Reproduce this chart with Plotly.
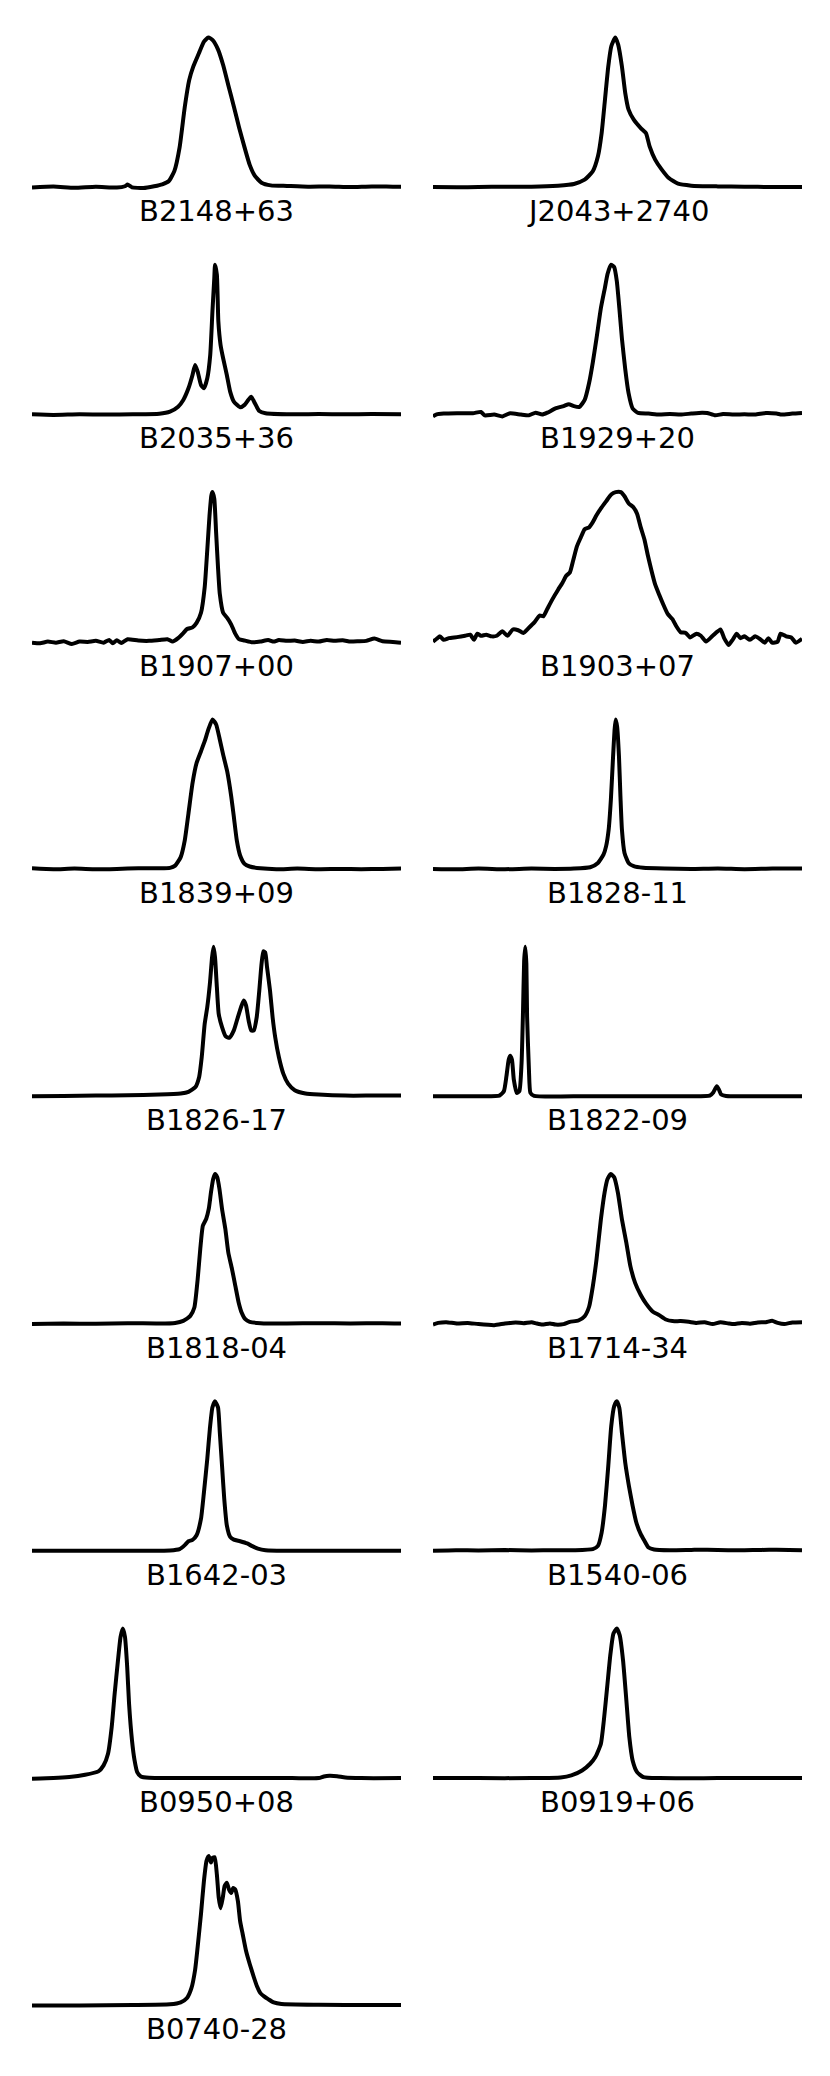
import plotly.graph_objects as go

# ---------------- data: normalised pulse profiles (phase 0..1, intensity peak = 1) ----------------
names = ["B2148+63", "J2043+2740", "B2035+36", "B1929+20", "B1907+00", "B1903+07",
         "B1839+09", "B1828-11", "B1826-17", "B1822-09", "B1818-04", "B1714-34",
         "B1642-03", "B1540-06", "B0950+08", "B0919+06", "B0740-28"]

phase_B2148 = [0.000, 0.058, 0.115, 0.173, 0.230, 0.252, 0.259, 0.271, 0.302, 0.331, 0.353, 0.371, 0.386,
               0.400, 0.414, 0.426, 0.437, 0.452, 0.466, 0.478, 0.489, 0.504, 0.518, 0.532, 0.547, 0.561,
               0.576, 0.590, 0.604, 0.622, 0.647, 0.691, 0.748, 0.806, 0.863, 0.921, 0.978, 1.000]
flux_B2148 = [-0.004, 0.003, -0.005, 0.002, -0.004, 0.005, 0.016, -0.002, -0.007, 0.005, 0.018, 0.040, 0.108,
              0.265, 0.535, 0.715, 0.805, 0.893, 0.973, 1.000, 0.984, 0.921, 0.816, 0.681, 0.539, 0.400,
              0.265, 0.148, 0.074, 0.029, 0.011, 0.007, 0.002, 0.004, 0.000, 0.004, 0.002, 0.002]

phase_J2043 = [0.000, 0.065, 0.123, 0.195, 0.267, 0.339, 0.382, 0.411, 0.433, 0.447, 0.457, 0.466, 0.475,
               0.483, 0.494, 0.502, 0.512, 0.521, 0.530, 0.544, 0.563, 0.577, 0.587, 0.602, 0.620, 0.639,
               0.664, 0.700, 0.772, 0.844, 0.916, 1.000]
flux_J2043 = [0.000, -0.002, 0.000, 0.002, 0.002, 0.009, 0.020, 0.049, 0.105, 0.205, 0.360, 0.583, 0.806,
              0.940, 1.000, 0.951, 0.806, 0.628, 0.517, 0.450, 0.394, 0.361, 0.272, 0.183, 0.116, 0.060,
              0.022, 0.009, 0.004, 0.002, 0.000, 0.000]

phase_B2035 = [0.000, 0.058, 0.129, 0.201, 0.273, 0.345, 0.374, 0.396, 0.410, 0.424, 0.435, 0.442, 0.449,
               0.458, 0.466, 0.475, 0.483, 0.489, 0.494, 0.496, 0.501, 0.505, 0.511, 0.518, 0.528, 0.537,
               0.547, 0.564, 0.576, 0.586, 0.594, 0.604, 0.616, 0.633, 0.705, 0.777, 0.849, 0.921, 1.000]
flux_B2035 = [0.000, -0.004, 0.000, -0.002, 0.000, 0.004, 0.018, 0.051, 0.096, 0.174, 0.263, 0.330, 0.286,
              0.196, 0.174, 0.241, 0.397, 0.688, 0.911, 1.000, 0.933, 0.621, 0.464, 0.375, 0.263, 0.152,
              0.085, 0.047, 0.063, 0.096, 0.118, 0.074, 0.022, 0.007, 0.000, 0.002, 0.000, 0.002, 0.000]

phase_B1929 = [0.000, 0.010, 0.029, 0.065, 0.108, 0.130, 0.140, 0.166, 0.188, 0.209, 0.238, 0.260, 0.278,
               0.296, 0.310, 0.332, 0.354, 0.368, 0.382, 0.397, 0.411, 0.423, 0.433, 0.443, 0.455, 0.466,
               0.473, 0.482, 0.491, 0.498, 0.505, 0.512, 0.521, 0.530, 0.541, 0.556, 0.584, 0.613, 0.642,
               0.671, 0.700, 0.729, 0.743, 0.765, 0.786, 0.815, 0.844, 0.873, 0.902, 0.931, 0.945, 0.974, 1.000]
flux_B1929 = [-0.014, 0.000, 0.005, 0.007, 0.007, 0.016, -0.007, -0.002, -0.014, 0.007, -0.002, -0.007, 0.011,
              -0.002, 0.011, 0.039, 0.055, 0.068, 0.055, 0.050, 0.096, 0.209, 0.346, 0.506, 0.711, 0.848,
              0.939, 1.000, 0.984, 0.893, 0.711, 0.506, 0.301, 0.141, 0.039, 0.009, 0.005, -0.002, 0.002,
              -0.002, 0.005, 0.011, 0.009, -0.007, 0.002, -0.002, 0.000, -0.002, 0.009, 0.005, -0.002, 0.005, 0.009]

phase_B1907 = [0.000, 0.022, 0.043, 0.065, 0.086, 0.108, 0.129, 0.151, 0.173, 0.194, 0.209, 0.219, 0.230,
               0.242, 0.259, 0.288, 0.317, 0.345, 0.367, 0.381, 0.396, 0.410, 0.420, 0.435, 0.446, 0.458,
               0.468, 0.475, 0.481, 0.486, 0.489, 0.494, 0.499, 0.504, 0.509, 0.518, 0.529, 0.540, 0.550,
               0.561, 0.576, 0.597, 0.619, 0.640, 0.655, 0.669, 0.691, 0.712, 0.734, 0.755, 0.777, 0.799,
               0.820, 0.842, 0.863, 0.885, 0.906, 0.928, 0.950, 0.978, 1.000]
flux_B1907 = [-0.007, -0.011, 0.000, -0.007, 0.002, -0.016, 0.000, -0.002, 0.005, -0.007, 0.011, -0.011, 0.009,
              -0.009, 0.016, 0.007, 0.005, 0.011, 0.016, 0.000, 0.023, 0.057, 0.084, 0.095, 0.125, 0.193,
              0.364, 0.614, 0.841, 0.977, 1.000, 0.955, 0.727, 0.500, 0.318, 0.193, 0.159, 0.114, 0.057,
              0.016, 0.007, -0.005, 0.000, 0.011, 0.000, 0.011, 0.005, 0.007, -0.002, 0.005, 0.000, 0.011,
              0.005, 0.009, 0.000, 0.002, 0.005, 0.020, 0.002, -0.002, -0.007]

phase_B1903 = [0.000, 0.010, 0.019, 0.029, 0.043, 0.065, 0.087, 0.101, 0.111, 0.120, 0.130, 0.144, 0.159,
               0.173, 0.188, 0.202, 0.216, 0.231, 0.245, 0.260, 0.274, 0.289, 0.299, 0.310, 0.325, 0.339,
               0.351, 0.361, 0.371, 0.380, 0.390, 0.400, 0.411, 0.423, 0.433, 0.443, 0.455, 0.469, 0.483,
               0.495, 0.509, 0.519, 0.530, 0.544, 0.553, 0.563, 0.573, 0.582, 0.592, 0.602, 0.613, 0.625,
               0.636, 0.649, 0.659, 0.671, 0.685, 0.697, 0.714, 0.726, 0.740, 0.758, 0.779, 0.789, 0.801,
               0.812, 0.823, 0.833, 0.844, 0.859, 0.873, 0.885, 0.899, 0.909, 0.919, 0.934, 0.942, 0.957,
               0.971, 0.983, 1.000]
flux_B1903 = [0.000, 0.019, 0.035, 0.012, 0.023, 0.030, 0.039, 0.046, 0.012, 0.053, 0.039, 0.046, 0.035,
              0.039, 0.069, 0.039, 0.081, 0.076, 0.058, 0.093, 0.127, 0.174, 0.169, 0.220, 0.289, 0.347,
              0.394, 0.440, 0.463, 0.544, 0.637, 0.694, 0.752, 0.764, 0.799, 0.845, 0.891, 0.938, 0.984,
              1.000, 1.000, 0.972, 0.926, 0.896, 0.856, 0.764, 0.683, 0.579, 0.475, 0.382, 0.313, 0.243,
              0.185, 0.150, 0.104, 0.063, 0.058, 0.028, 0.053, 0.039, 0.000, 0.039, 0.081, 0.023, -0.023,
              0.012, 0.053, 0.023, 0.035, 0.012, 0.035, 0.019, -0.007, 0.023, -0.007, 0.000, 0.053, 0.035,
              0.028, -0.007, 0.019]

phase_B1839 = [0.000, 0.058, 0.115, 0.173, 0.230, 0.288, 0.345, 0.374, 0.388, 0.403, 0.414, 0.424, 0.435,
               0.446, 0.458, 0.468, 0.478, 0.489, 0.499, 0.508, 0.518, 0.529, 0.540, 0.547, 0.555, 0.564,
               0.576, 0.590, 0.619, 0.662, 0.719, 0.777, 0.835, 0.892, 0.950, 1.000]
flux_B1839 = [0.004, -0.002, 0.002, -0.002, 0.000, 0.004, 0.004, 0.007, 0.022, 0.079, 0.191, 0.371, 0.573,
              0.708, 0.787, 0.854, 0.933, 1.000, 0.966, 0.876, 0.764, 0.652, 0.483, 0.348, 0.191, 0.090,
              0.034, 0.016, 0.004, -0.002, 0.002, -0.002, 0.000, -0.002, 0.000, 0.002]

phase_B1828 = [0.000, 0.062, 0.123, 0.195, 0.267, 0.330, 0.382, 0.426, 0.447, 0.462, 0.469, 0.476, 0.482,
               0.488, 0.492, 0.495, 0.499, 0.504, 0.508, 0.512, 0.519, 0.530, 0.544, 0.570, 0.628, 0.700,
               0.772, 0.844, 0.920, 1.000]
flux_B1828 = [0.000, -0.003, 0.002, -0.002, 0.002, 0.000, 0.002, 0.011, 0.040, 0.096, 0.151, 0.262, 0.462,
              0.751, 0.929, 1.000, 0.951, 0.751, 0.484, 0.262, 0.107, 0.040, 0.018, 0.007, 0.002, 0.000,
              0.003, -0.002, 0.002, 0.002]

phase_B1826 = [0.000, 0.086, 0.173, 0.259, 0.345, 0.403, 0.424, 0.443, 0.453, 0.460, 0.468, 0.475, 0.482,
               0.488, 0.492, 0.496, 0.501, 0.506, 0.515, 0.525, 0.535, 0.547, 0.558, 0.568, 0.574, 0.580,
               0.587, 0.594, 0.601, 0.609, 0.616, 0.622, 0.627, 0.632, 0.637, 0.645, 0.652, 0.659, 0.669,
               0.681, 0.694, 0.712, 0.741, 0.777, 0.849, 0.921, 1.000]
flux_B1826 = [0.000, 0.002, 0.004, 0.007, 0.011, 0.018, 0.029, 0.062, 0.129, 0.262, 0.484, 0.596, 0.751,
              0.929, 1.000, 0.929, 0.729, 0.551, 0.462, 0.400, 0.391, 0.440, 0.529, 0.607, 0.640, 0.607,
              0.507, 0.440, 0.440, 0.529, 0.707, 0.884, 0.969, 0.962, 0.862, 0.707, 0.529, 0.396, 0.262,
              0.151, 0.084, 0.040, 0.018, 0.011, 0.004, 0.004, 0.004]

phase_B1822 = [0.000, 0.123, 0.180, 0.192, 0.199, 0.205, 0.209, 0.214, 0.219, 0.227, 0.234, 0.240, 0.244,
               0.247, 0.250, 0.253, 0.255, 0.260, 0.264, 0.274, 0.411, 0.556, 0.700, 0.750, 0.760, 0.769,
               0.775, 0.781, 0.794, 0.873, 1.000]
flux_B1822 = [0.000, 0.000, 0.004, 0.033, 0.133, 0.243, 0.270, 0.243, 0.111, 0.022, 0.033, 0.221, 0.575,
              0.903, 1.000, 0.885, 0.531, 0.177, 0.022, 0.002, 0.000, 0.000, 0.000, 0.004, 0.027, 0.066,
              0.044, 0.011, 0.002, 0.000, 0.000]

phase_B1818 = [0.000, 0.086, 0.173, 0.259, 0.345, 0.388, 0.410, 0.429, 0.440, 0.449, 0.456, 0.463, 0.472,
               0.479, 0.485, 0.491, 0.496, 0.502, 0.508, 0.515, 0.524, 0.532, 0.542, 0.551, 0.560, 0.568,
               0.578, 0.590, 0.619, 0.691, 0.777, 0.863, 0.950, 1.000]
flux_B1818 = [-0.004, 0.000, -0.002, 0.002, 0.000, 0.004, 0.018, 0.051, 0.107, 0.297, 0.498, 0.654, 0.699,
              0.766, 0.877, 0.967, 1.000, 0.978, 0.900, 0.766, 0.632, 0.475, 0.364, 0.252, 0.141, 0.074,
              0.029, 0.011, 0.002, 0.000, 0.002, 0.000, 0.002, 0.000]

phase_B1714 = [0.000, 0.014, 0.036, 0.065, 0.094, 0.123, 0.166, 0.195, 0.224, 0.245, 0.267, 0.281, 0.296,
               0.317, 0.332, 0.354, 0.371, 0.394, 0.411, 0.423, 0.433, 0.443, 0.455, 0.465, 0.473, 0.482,
               0.491, 0.501, 0.512, 0.524, 0.535, 0.548, 0.563, 0.577, 0.596, 0.613, 0.631, 0.649, 0.671,
               0.693, 0.714, 0.736, 0.758, 0.779, 0.801, 0.815, 0.837, 0.859, 0.880, 0.902, 0.919, 0.934,
               0.952, 0.974, 1.000]
flux_B1714 = [-0.007, 0.004, 0.009, 0.000, 0.004, -0.004, -0.011, 0.000, 0.007, 0.002, 0.009, 0.000, -0.007,
              0.000, -0.007, -0.004, 0.011, 0.020, 0.049, 0.112, 0.247, 0.427, 0.697, 0.876, 0.966, 1.000,
              0.978, 0.876, 0.697, 0.539, 0.382, 0.270, 0.191, 0.135, 0.079, 0.056, 0.027, 0.016, 0.016,
              0.011, 0.004, 0.009, -0.004, 0.009, 0.000, -0.004, 0.004, -0.002, 0.007, 0.009, 0.018, 0.004,
              -0.004, 0.007, 0.009]

phase_B1642 = [0.000, 0.129, 0.273, 0.374, 0.400, 0.414, 0.424, 0.435, 0.446, 0.458, 0.466, 0.475, 0.482,
               0.489, 0.496, 0.504, 0.509, 0.515, 0.521, 0.528, 0.537, 0.547, 0.564, 0.583, 0.597, 0.612,
               0.633, 0.705, 0.849, 1.000]
flux_B1642 = [0.000, 0.000, 0.000, 0.002, 0.011, 0.038, 0.064, 0.073, 0.104, 0.215, 0.392, 0.615, 0.816,
              0.960, 1.000, 0.960, 0.790, 0.568, 0.347, 0.170, 0.093, 0.075, 0.064, 0.049, 0.031, 0.015,
              0.004, 0.000, 0.000, 0.000]

phase_B1540 = [0.000, 0.062, 0.123, 0.195, 0.267, 0.330, 0.382, 0.433, 0.447, 0.457, 0.466, 0.475, 0.483,
               0.491, 0.498, 0.505, 0.512, 0.521, 0.531, 0.541, 0.551, 0.563, 0.573, 0.584, 0.599, 0.642,
               0.700, 0.743, 0.800, 0.844, 0.890, 0.931, 1.000]
flux_B1540 = [0.000, 0.004, 0.002, 0.005, 0.002, 0.004, 0.004, 0.011, 0.033, 0.122, 0.300, 0.567, 0.833,
              0.967, 1.000, 0.956, 0.789, 0.589, 0.433, 0.300, 0.189, 0.111, 0.067, 0.022, 0.009, 0.004,
              0.006, 0.007, 0.003, 0.004, 0.006, 0.007, 0.004]

phase_B0950 = [0.000, 0.058, 0.101, 0.144, 0.180, 0.194, 0.206, 0.216, 0.224, 0.233, 0.240, 0.246, 0.252,
               0.258, 0.263, 0.271, 0.278, 0.285, 0.295, 0.317, 0.417, 0.561, 0.705, 0.777, 0.791, 0.806,
               0.827, 0.849, 0.892, 1.000]
flux_B0950 = [-0.004, 0.000, 0.007, 0.022, 0.045, 0.085, 0.163, 0.342, 0.565, 0.788, 0.944, 1.000, 0.944,
              0.743, 0.498, 0.252, 0.118, 0.040, 0.011, 0.002, 0.000, 0.000, 0.000, 0.000, 0.011, 0.016,
              0.013, 0.004, 0.000, 0.000]

phase_B0919 = [0.000, 0.123, 0.267, 0.346, 0.375, 0.404, 0.426, 0.440, 0.455, 0.463, 0.472, 0.481, 0.489,
               0.498, 0.506, 0.515, 0.524, 0.532, 0.541, 0.553, 0.570, 0.613, 0.772, 1.000]
flux_B0919 = [0.000, 0.000, 0.000, 0.004, 0.018, 0.051, 0.096, 0.141, 0.230, 0.386, 0.609, 0.833, 0.967,
              1.000, 0.955, 0.788, 0.520, 0.275, 0.118, 0.040, 0.007, 0.000, 0.000, 0.000]

phase_B0740 = [0.000, 0.129, 0.273, 0.374, 0.403, 0.420, 0.432, 0.442, 0.449, 0.458, 0.466, 0.473, 0.479,
               0.485, 0.489, 0.495, 0.501, 0.506, 0.511, 0.517, 0.522, 0.528, 0.534, 0.540, 0.545, 0.551,
               0.558, 0.564, 0.571, 0.580, 0.590, 0.601, 0.610, 0.619, 0.629, 0.640, 0.655, 0.676, 0.777,
               0.921, 1.000]
flux_B0740 = [0.000, 0.000, 0.002, 0.007, 0.020, 0.049, 0.115, 0.237, 0.392, 0.613, 0.834, 0.967, 1.000,
              0.956, 0.987, 0.991, 0.876, 0.721, 0.650, 0.721, 0.799, 0.821, 0.774, 0.752, 0.785, 0.774,
              0.697, 0.564, 0.476, 0.365, 0.277, 0.190, 0.126, 0.082, 0.060, 0.042, 0.020, 0.009, 0.004,
              0.002, 0.002]

phases = [phase_B2148, phase_J2043, phase_B2035, phase_B1929, phase_B1907, phase_B1903,
          phase_B1839, phase_B1828, phase_B1826, phase_B1822, phase_B1818, phase_B1714,
          phase_B1642, phase_B1540, phase_B0950, phase_B0919, phase_B0740]
fluxes = [flux_B2148, flux_J2043, flux_B2035, flux_B1929, flux_B1907, flux_B1903,
          flux_B1839, flux_B1828, flux_B1826, flux_B1822, flux_B1818, flux_B1714,
          flux_B1642, flux_B1540, flux_B0950, flux_B0919, flux_B0740]

# ---------------- layout (pixel positions account for the 8px page margin) ----------------
W, H = 830, 2076
COLS = [(24.0, 393.0), (425.0, 794.0)]
ROW0_PEAK = 29.5
ROW_PITCH = 227.3
PEAK_TO_BASE = 149.5
PAD = 0.1

fig = go.Figure()
layout_axes = {}
for i, (name, ph, fl) in enumerate(zip(names, phases, fluxes)):
    r, c = divmod(i, 2)
    sfx = "" if i == 0 else str(i + 1)
    x0, x1 = COLS[c]
    yp = ROW0_PEAK + ROW_PITCH * r
    yb = yp + PEAK_TO_BASE
    top = yp - PAD * PEAK_TO_BASE
    bot = yb + PAD * PEAK_TO_BASE
    fig.add_trace(go.Scatter(
        x=ph, y=fl, mode="lines",
        line=dict(color="black", width=4.0, shape="spline", smoothing=0.5),
        xaxis="x" + sfx, yaxis="y" + sfx,
        showlegend=False, hoverinfo="skip"))
    layout_axes["xaxis" + sfx] = dict(domain=[x0 / W, x1 / W], range=[0, 1], visible=False,
                                      anchor="y" + sfx, fixedrange=True)
    layout_axes["yaxis" + sfx] = dict(domain=[1 - bot / H, 1 - top / H], range=[-PAD, 1 + PAD],
                                      visible=False, anchor="x" + sfx, fixedrange=True)
    fig.add_annotation(text=name, x=(x0 + x1) / 2 / W, y=1 - (yb + 24) / H,
                       xref="paper", yref="paper", showarrow=False,
                       xanchor="center", yanchor="middle",
                       font=dict(family="DejaVu Sans", size=29, color="black"))

fig.update_layout(**layout_axes)
fig.update_layout(width=W, height=H, margin=dict(l=0, r=0, t=0, b=0),
                  paper_bgcolor="white", plot_bgcolor="white", showlegend=False)

fig.write_html("out.html")
